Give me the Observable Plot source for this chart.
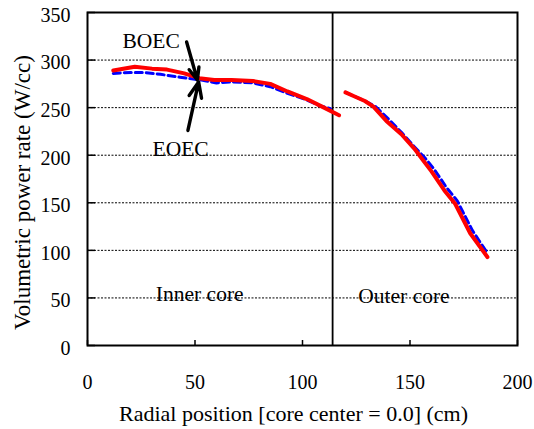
<!DOCTYPE html>
<html>
<head>
<meta charset="utf-8">
<script src="https://cdn.jsdelivr.net/npm/d3@7"></script>
<script src="https://cdn.jsdelivr.net/npm/@observablehq/plot@0.6"></script>
<style>
  html, body { margin: 0; padding: 0; background: white; }
  #chart svg, #chart svg text { font-family: "Liberation Serif", "Tinos", "Times New Roman", "DejaVu Serif", "Noto Serif", serif !important; }
</style>
</head>
<body>
<div id="chart"></div>
<script>
// --- data ---
const boecInnerX = [12, 22, 30, 37, 45, 52, 59, 67, 77, 85, 93, 102, 110, 117];
const boecInnerY = [289, 293, 291, 290, 286, 281, 279, 279, 278, 275, 267, 259, 250, 242];
const eoecInnerX = [12, 20, 26, 34, 43, 53, 60, 67, 77, 85, 93, 101, 108, 113];
const eoecInnerY = [286, 287, 287, 285, 282, 279, 276, 277, 276, 272, 265, 259, 252, 249];
const boecOuterX = [120, 124, 129, 133, 139, 146, 152, 156, 160, 166, 171, 178, 186];
const boecOuterY = [266, 262, 257, 251, 236, 222, 207, 195, 183, 163, 149, 118, 93];
const eoecOuterX = [120, 124, 129, 134, 140, 146, 152, 157, 161, 167, 172, 179, 186];
const eoecOuterY = [266, 262, 257, 251, 238, 224, 209, 197, 186, 166, 152, 121, 97];

const xTicks = [0, 50, 100, 150, 200];
const yTicks = [0, 50, 100, 150, 200, 250, 300, 350];
const gridY = [50, 100, 150, 200, 250, 300];
const coreBoundary = [114];

const xTitle = "Radial position [core center = 0.0] (cm)";
const yTitle = "Volumetric power rate (W/cc)";

const labels = [
  {text: "BOEC", x: 29.6, y: 320},
  {text: "EOEC", x: 43.3, y: 206},
  {text: "Inner core", x: 52.2, y: 53.5},
  {text: "Outer core", x: 147.2, y: 51.5}
];
const arrows = [
  {x1: 46.1, y1: 319, x2: 51.1, y2: 279},
  {x1: 46.7, y1: 226, x2: 51.7, y2: 277}
];

// --- build tables ---
const toRows = (xs, ys, series, seg) => xs.map((x, i) => ({x, y: ys[i], series, seg}));
const boec = [...toRows(boecInnerX, boecInnerY, "BOEC", "inner"), ...toRows(boecOuterX, boecOuterY, "BOEC", "outer")];
const eoec = [...toRows(eoecInnerX, eoecInnerY, "EOEC", "inner"), ...toRows(eoecOuterX, eoecOuterY, "EOEC", "outer")];

const serif = "'Liberation Serif', Tinos, 'Times New Roman', 'DejaVu Serif', 'Noto Serif', serif";

const chart = Plot.plot({
  width: 534,
  height: 429,
  marginLeft: 87,
  marginRight: 17,
  marginTop: 12,
  marginBottom: 84,
  style: {fontFamily: serif, fontSize: "20px", background: "white", color: "black", overflow: "visible"},
  x: {domain: [0, 200]},
  y: {domain: [0, 350]},
  marks: [
    Plot.ruleY(gridY, {stroke: "black", strokeWidth: 1, strokeDasharray: "2,1.5"}),
    Plot.ruleX(coreBoundary, {stroke: "black", strokeWidth: 1.8}),
    Plot.tickY(yTicks, {y: d => d, stroke: "black", strokeWidth: 1.5, insetRight: 422}),
    Plot.tickX(xTicks, {x: d => d, stroke: "black", strokeWidth: 1.5, insetTop: 328}),
    Plot.axisX({ticks: xTicks, tickSize: 0, tickPadding: 29, label: null, fontSize: 20}),
    Plot.axisY({ticks: yTicks, tickSize: 0, tickPadding: 17, dy: 3, label: null, fontSize: 20}),
    Plot.line(eoec, {x: "x", y: "y", z: "seg", stroke: "#0000ff", strokeWidth: 3, strokeDasharray: "7,4"}),
    Plot.line(boec, {x: "x", y: "y", z: "seg", stroke: "#ff0000", strokeWidth: 4, strokeLinecap: "round", strokeLinejoin: "round"}),
    Plot.arrow(arrows, {x1: "x1", y1: "y1", x2: "x2", y2: "y2", stroke: "black", strokeWidth: 3.4, headLength: 13, headAngle: 45, strokeLinejoin: "miter"}),
    Plot.text(labels, {x: "x", y: "y", text: "text", fontSize: 21.5, fill: "black"}),
    Plot.text([xTitle], {frameAnchor: "bottom", textAnchor: "middle", lineAnchor: "middle", dx: -9, dy: 68, fontSize: 22, fill: "black"}),
    Plot.text([yTitle], {frameAnchor: "left", textAnchor: "middle", lineAnchor: "middle", dx: -65, dy: 13.5, rotate: -90, fontSize: 23, fill: "black"}),
    Plot.frame({stroke: "black", strokeWidth: 2})
  ]
});
document.getElementById("chart").appendChild(chart);
</script>
</body>
</html>
